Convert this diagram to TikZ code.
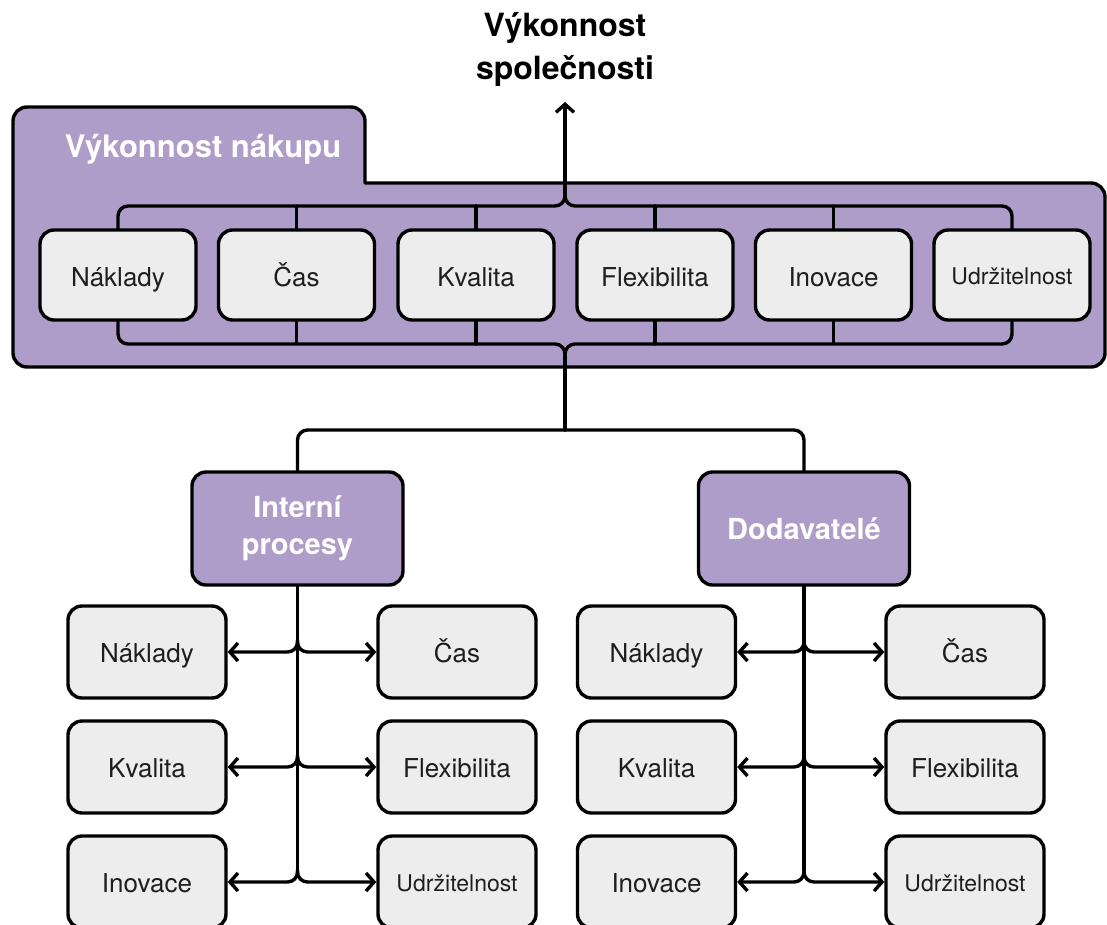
\documentclass[tikz,border=0pt]{standalone}
\usepackage{fontspec}
\setmainfont{TeX Gyre Heros}
\usetikzlibrary{arrows.meta,calc}

\definecolor{lilac}{HTML}{AE9CC9}
\definecolor{boxgrey}{HTML}{EDEDED}
\definecolor{ink}{HTML}{1E1E1E}

\begin{document}
\begin{tikzpicture}[x=1pt,y=-1pt,
  wire/.style={line width=3.4pt, line join=round, line cap=round},
  arrowwire/.style={wire, -{Straight Barb[length=8pt,width=18pt]}},
  curved/.style={rounded corners=10pt},
  item/.style={draw, line width=3.4pt, fill=boxgrey, rounded corners=14pt,
    minimum width=156pt, minimum height=90pt, inner sep=0pt, text=ink,
    font=\fontsize{26}{30}\selectfont, text height=22pt, text depth=0pt},
  lowitem/.style={item, minimum width=158pt, minimum height=92pt, text height=21pt},
  small/.style={font=\fontsize{23}{27}\selectfont, text height=19pt},
  hub/.style={draw, line width=3.4pt, fill=lilac, rounded corners=14pt,
    minimum width=211pt, minimum height=113pt, inner sep=0pt, text=white,
    align=center, font=\bfseries\fontsize{29}{37}\selectfont},
]
\useasboundingbox (0,0) rectangle (1107,924);

% purchasing panel with its tab
\draw[line width=3.4pt, fill=lilac, line join=round]
  (13,240) [rounded corners=14pt] -- (13,107) -- (365,107)
  [sharp corners] -- (365,183)
  [rounded corners=14pt] -- (1105,183) -- (1105,367) -- (13,367) -- cycle;
\node[anchor=base, text=white, font=\bfseries\fontsize{31}{37}\selectfont]
  (tab) at (203,157) {Výkonnost nákupu};

% company performance
\node[anchor=south, align=center, inner sep=0pt,
  font=\bfseries\fontsize{32}{43}\selectfont] (title) at (565,87)
  {Výkonnost\\společnosti};

% purchasing dimensions
\node[item] (t1) at (118,275) {Náklady};
\node[item] (t2) at (296.5,275) {Čas};
\node[item] (t3) at (476,275) {Kvalita};
\node[item] (t4) at (655,275) {Flexibilita};
\node[item] (t5) at (833.5,275) {Inovace};
\node[item, small] (t6) at (1012,275) {Udržitelnost};

\coordinate (topbus) at (565,206);
\coordinate (stemtop) at (565,194);
\coordinate (botbus) at (565,344);
\coordinate (stembot) at (565,356);
\coordinate (split) at (565,430);

% upper bus and arrow to company performance
\draw[wire, curved] (t1.north) |- (topbus) -- (stemtop);
\draw[wire, curved] (t6.north) |- (topbus) -- (stemtop);
\foreach \n in {t2,t3,t4,t5} \draw[wire] (\n.north) -- (\n.north |- topbus);
\draw[arrowwire, shorten >=15pt] (stemtop) -- (title.south);

% lower bus
\draw[wire, curved] (t1.south) |- (botbus) -- (stembot);
\draw[wire, curved] (t6.south) |- (botbus) -- (stembot);
\foreach \n in {t2,t3,t4,t5} \draw[wire] (\n.south) -- (\n.south |- botbus);
\draw[wire] (stembot) -- (split);

% two sources
\node[hub] (ip) at (297.5,528.5) {Interní\\procesy};
\node[hub] (dod) at (804,528.5) {Dodavatelé};
\draw[wire, curved] (split) -| (ip.north);
\draw[wire, curved] (split) -| (dod.north);

% internal processes
\node[lowitem] (a1) at (147,652) {Náklady};
\node[lowitem] (a2) at (457,652) {Čas};
\node[lowitem] (a3) at (147,767) {Kvalita};
\node[lowitem] (a4) at (457,767) {Flexibilita};
\node[lowitem] (a5) at (147,882) {Inovace};
\node[lowitem, small] (a6) at (457,882) {Udržitelnost};

% suppliers
\node[lowitem] (b1) at (656.5,652) {Náklady};
\node[lowitem] (b2) at (965,652) {Čas};
\node[lowitem] (b3) at (656.5,767) {Kvalita};
\node[lowitem] (b4) at (965,767) {Flexibilita};
\node[lowitem] (b5) at (656.5,882) {Inovace};
\node[lowitem, small] (b6) at (965,882) {Udržitelnost};

% stems with branches
\draw[wire] (ip.south) -- ($(ip.south |- a5.east)+(0,-12)$);
\foreach \l/\r in {a1/a2,a3/a4,a5/a6}{
  \draw[arrowwire, curved] ($(ip.south |- \l.east)+(0,-12)$) |- (\l.east);
  \draw[arrowwire, curved] ($(ip.south |- \r.west)+(0,-12)$) |- (\r.west);
}
\draw[wire] (dod.south) -- ($(dod.south |- b5.east)+(0,-12)$);
\foreach \l/\r in {b1/b2,b3/b4,b5/b6}{
  \draw[arrowwire, curved] ($(dod.south |- \l.east)+(0,-12)$) |- (\l.east);
  \draw[arrowwire, curved] ($(dod.south |- \r.west)+(0,-12)$) |- (\r.west);
}
\end{tikzpicture}
\end{document}
